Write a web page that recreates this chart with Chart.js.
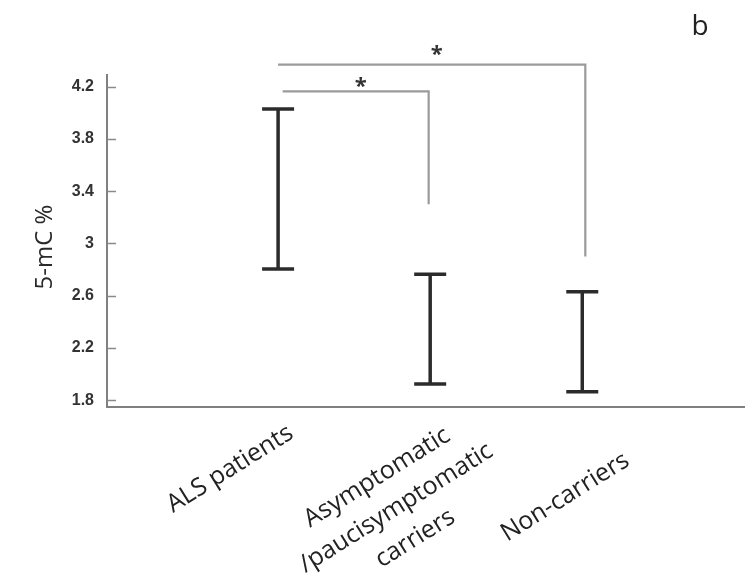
<!DOCTYPE html>
<html>
<head>
<meta charset="utf-8">
<script src="https://cdn.jsdelivr.net/npm/chart.js@4.4.0/dist/chart.umd.min.js"></script>
<style>
  html, body { margin: 0; background: #fff; }
  #wrap { width: 745px; height: 586px; }
</style>
</head>
<body>
<div id="wrap"><canvas id="chart"></canvas></div>
<script>
const groups = [
  ["ALS patients"],
  ["Asymptomatic", "/paucisymptomatic", "carriers"],
  ["Non-carriers"],
];
const lowValues = [2.805, 1.925, 1.865];
const highValues = [4.03, 2.765, 2.63];
const yTicks = [1.8, 2.2, 2.6, 3, 3.4, 3.8, 4.2];

// significance brackets (x in group index, y in 5-mC %)
const sigFrom = [0.03, 0];
const sigTo = [0.99, 2.02];
const sigLevel = [4.165, 4.37];
const sigDrop = [3.3, 2.9];
const sigMark = ["*", "*"];

// layout tweaks: star lift above its bracket, label block shifts
const markLift = [-2, 4];
const labelShift = [
  { dx: -48, dy: 62 },
  { dx: -34, dy: 101 },
  { dx: -17, dy: 90 },
];

const datasets = [];

groups.forEach((g, i) => {
  datasets.push({
    type: "line",
    data: [
      { x: i, y: lowValues[i] },
      { x: i, y: highValues[i] },
    ],
    borderColor: "#2b2b2b",
    borderWidth: 3.5,
    pointStyle: "line",
    pointRadius: 16,
    pointBorderWidth: 3.5,
    pointBorderColor: "#2b2b2b",
    clip: false,
  });
});

sigFrom.forEach((from, k) => {
  datasets.push({
    type: "line",
    data: [
      { x: from, y: sigLevel[k] },
      { x: sigTo[k], y: sigLevel[k] },
      { x: sigTo[k], y: sigDrop[k] },
    ],
    borderColor: "#9a9a9a",
    borderWidth: 2.2,
    pointRadius: 0,
    clip: false,
  });
});

const extras = {
  id: "extras",
  afterDraw(chart) {
    const { ctx, chartArea, scales } = chart;
    const x = scales.x;
    const y = scales.y;

    // inward tick marks
    ctx.save();
    ctx.strokeStyle = "#8a8a8a";
    ctx.lineWidth = 1.5;
    yTicks.forEach((v) => {
      const py = Math.round(y.getPixelForValue(v)) + 0.5;
      ctx.beginPath();
      ctx.moveTo(chartArea.left, py);
      ctx.lineTo(chartArea.left + 9, py);
      ctx.stroke();
    });
    ctx.restore();

    // y axis title
    ctx.save();
    ctx.fillStyle = "#2a2a2a";
    ctx.font = "24px 'Open Sans'";
    ctx.textAlign = "center";
    ctx.textBaseline = "middle";
    ctx.translate(45, (chartArea.top + chartArea.bottom) / 2 + 6);
    ctx.rotate(-Math.PI / 2);
    ctx.fillText("5-mC %", 0, 0);
    ctx.restore();

    // asterisks
    ctx.save();
    ctx.fillStyle = "#333";
    ctx.font = "bold 22px 'Open Sans'";
    ctx.textAlign = "center";
    ctx.textBaseline = "alphabetic";
    sigMark.forEach((m, k) => {
      const px = x.getPixelForValue((sigFrom[k] + sigTo[k]) / 2) + 5;
      const py = y.getPixelForValue(sigLevel[k]) - markLift[k];
      ctx.fillText(m, px, py);
    });
    ctx.restore();

    // rotated category labels
    ctx.save();
    ctx.fillStyle = "#222";
    ctx.font = "25px 'Open Sans'";
    ctx.textAlign = "center";
    ctx.textBaseline = "middle";
    groups.forEach((lines, i) => {
      const px = x.getPixelForValue(i) + labelShift[i].dx;
      const py = chartArea.bottom + labelShift[i].dy;
      ctx.save();
      ctx.translate(px, py);
      ctx.rotate((-32 * Math.PI) / 180);
      lines.forEach((t, j) => {
        ctx.fillText(t, 0, (j - (lines.length - 1) / 2) * 36);
      });
      ctx.restore();
    });
    ctx.restore();

    // panel letter
    ctx.save();
    ctx.fillStyle = "#222";
    ctx.font = "28px 'Open Sans'";
    ctx.textAlign = "center";
    ctx.textBaseline = "alphabetic";
    ctx.fillText("b", 700, 35);
    ctx.restore();
  },
};

new Chart(document.getElementById("chart"), {
  type: "line",
  data: { datasets },
  options: {
    responsive: true,
    maintainAspectRatio: false,
    animation: false,
    layout: { autoPadding: false, padding: { top: 75, bottom: 179, left: 0, right: 0 } },
    plugins: { legend: { display: false }, tooltip: { enabled: false } },
    scales: {
      x: {
        type: "linear",
        min: -1.125,
        max: 3.07,
        ticks: { display: false },
        grid: { display: false },
        border: { color: "#808080", width: 2 },
        afterFit: (s) => { s.height = 0; },
      },
      y: {
        type: "linear",
        min: 1.748,
        max: 4.29,
        afterBuildTicks: (s) => { s.ticks = yTicks.map((v) => ({ value: v })); },
        ticks: {
          padding: 5,
          color: "#333",
          font: { family: "'Liberation Sans Narrow', 'Liberation Sans'", size: 16, weight: "bold" },
          callback: (v) => String(v),
        },
        grid: { display: false },
        border: { color: "#808080", width: 2 },
        afterFit: (s) => { s.width = 107; },
      },
    },
  },
  plugins: [extras],
});
</script>
</body>
</html>
